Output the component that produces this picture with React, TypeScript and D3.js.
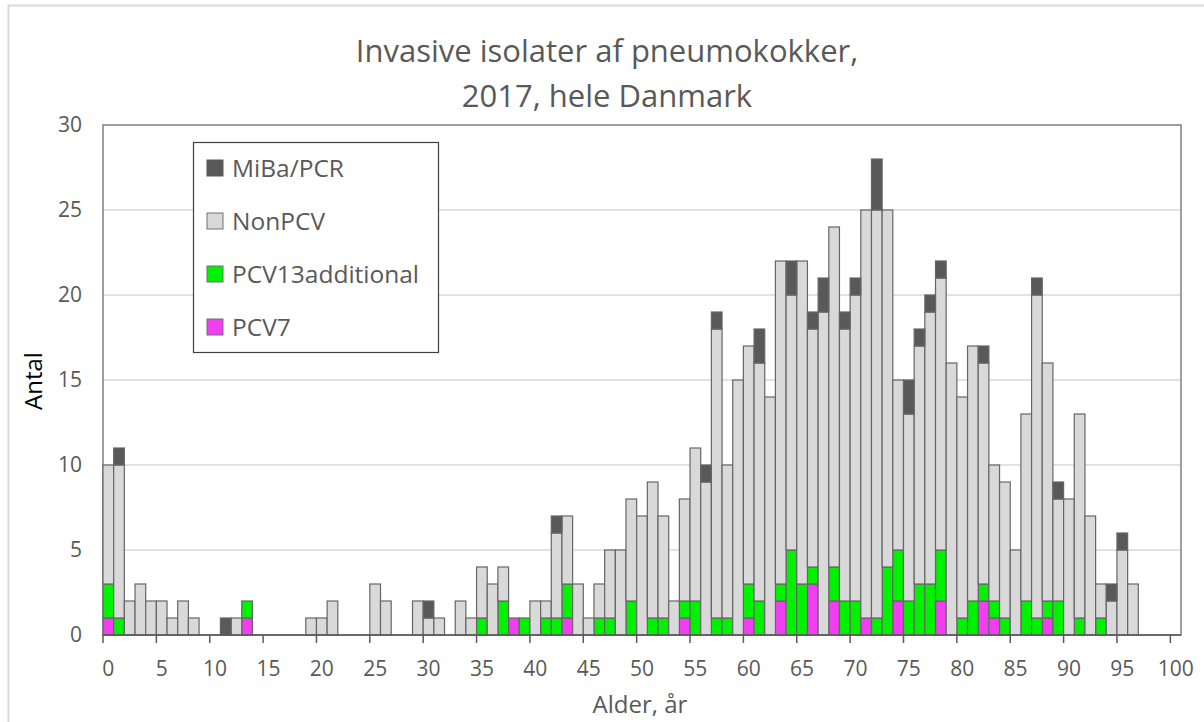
import React from "react";
import { scaleBand, scaleLinear, stack, range } from "d3";

// ages 0..100
const ages = range(0, 101);

// counts per age (missing ages = 0)
const pcv7: Record<number, number> = {
  0: 1, 13: 1, 38: 1, 43: 1, 54: 1, 60: 1, 63: 2, 66: 3, 68: 2, 71: 1,
  74: 2, 78: 2, 82: 2, 83: 1, 88: 1,
};
const pcv13additional: Record<number, number> = {
  0: 2, 1: 1, 13: 1, 35: 1, 37: 2, 39: 1, 41: 1, 42: 1, 43: 2, 46: 1,
  47: 1, 49: 2, 51: 1, 52: 1, 54: 1, 55: 2, 57: 1, 58: 1, 60: 2, 61: 2,
  63: 1, 64: 5, 65: 3, 66: 1, 68: 2, 69: 2, 70: 2, 72: 1, 73: 4, 74: 3,
  75: 2, 76: 3, 77: 3, 78: 3, 80: 1, 81: 2, 82: 1, 83: 1, 84: 1, 86: 2,
  87: 1, 88: 1, 89: 2, 91: 1, 93: 1,
};
const nonPCV: Record<number, number> = {
  0: 7, 1: 9, 2: 2, 3: 3, 4: 2, 5: 2, 6: 1, 7: 2, 8: 1, 12: 1, 19: 1,
  20: 1, 21: 2, 25: 3, 26: 2, 29: 2, 30: 1, 31: 1, 33: 2, 34: 1, 35: 3,
  36: 3, 37: 2, 40: 2, 41: 1, 42: 5, 43: 4, 44: 3, 45: 1, 46: 2, 47: 4,
  48: 5, 49: 6, 50: 7, 51: 8, 52: 6, 53: 2, 54: 6, 55: 9, 56: 9, 57: 17,
  58: 9, 59: 15, 60: 14, 61: 14, 62: 14, 63: 19, 64: 15, 65: 19, 66: 14,
  67: 19, 68: 20, 69: 16, 70: 18, 71: 24, 72: 24, 73: 21, 74: 10, 75: 11,
  76: 14, 77: 16, 78: 16, 79: 16, 80: 13, 81: 15, 82: 13, 83: 8, 84: 8,
  85: 5, 86: 11, 87: 19, 88: 14, 89: 6, 90: 8, 91: 12, 92: 7, 93: 2,
  94: 2, 95: 5, 96: 3,
};
const mibaPCR: Record<number, number> = {
  1: 1, 11: 1, 30: 1, 42: 1, 56: 1, 57: 1, 61: 2, 64: 2, 66: 1, 67: 2,
  69: 1, 70: 1, 72: 3, 75: 2, 76: 1, 77: 1, 78: 1, 82: 1, 87: 1, 89: 1,
  94: 1, 95: 1,
};

const yTicks = [0, 5, 10, 15, 20, 25, 30];
const xTicks = range(0, 101, 5);

const seriesKeys = ["PCV7", "PCV13additional", "NonPCV", "MiBa/PCR"];
const colors: Record<string, string> = {
  PCV7: "#f03ef0",
  PCV13additional: "#00f200",
  NonPCV: "#d9d9d9",
  "MiBa/PCR": "#595959",
};
const legendOrder = ["MiBa/PCR", "NonPCV", "PCV13additional", "PCV7"];

const width = 1204;
const height = 722;
const font = "'Open Sans', 'DejaVu Sans', sans-serif";
const textColor = "#595959";

export default function App() {
  const rows = ages.map((a) => ({
    age: a,
    PCV7: pcv7[a] || 0,
    PCV13additional: pcv13additional[a] || 0,
    NonPCV: nonPCV[a] || 0,
    "MiBa/PCR": mibaPCR[a] || 0,
  }));

  const series = stack<any>().keys(seriesKeys)(rows);

  const margin = { top: 125, right: 23, bottom: 87, left: 103 };
  const innerWidth = width - margin.left - margin.right;
  const innerHeight = height - margin.top - margin.bottom;

  const xScale = scaleBand<number>()
    .domain(ages)
    .range([0, innerWidth])
    .padding(0);
  const yScale = scaleLinear().domain([0, 30]).range([innerHeight, 0]);

  return (
    <div style={{ position: "fixed", left: 0, top: 0 }}>
      <svg width={width} height={height} style={{ display: "block" }}>
        <rect x={0} y={0} width={width} height={height} fill="#fff" />
        <rect
          x={8.5}
          y={5.5}
          width={width}
          height={height}
          fill="none"
          stroke="#d9d9d9"
          strokeWidth={2}
        />
        <text
          x={607}
          y={62}
          textAnchor="middle"
          fontFamily={font}
          fontSize={31}
          fill={textColor}
        >
          Invasive isolater af pneumokokker,
        </text>
        <text
          x={607}
          y={107}
          textAnchor="middle"
          fontFamily={font}
          fontSize={31}
          fill={textColor}
        >
          2017, hele Danmark
        </text>
        <g transform={`translate(${margin.left},${margin.top})`}>
          {yTicks.slice(1, -1).map((t) => (
            <line
              key={t}
              x1={0}
              x2={innerWidth}
              y1={yScale(t)}
              y2={yScale(t)}
              stroke="#d9d9d9"
              strokeWidth={1.5}
            />
          ))}
          <rect
            x={0}
            y={0}
            width={innerWidth}
            height={innerHeight}
            fill="none"
            stroke="#7f7f7f"
            strokeWidth={1.5}
          />
          {yTicks.map((t) => (
            <text
              key={t}
              x={-21}
              y={yScale(t)}
              dy=".35em"
              textAnchor="end"
              fontFamily={font}
              fontSize={21}
              fill={textColor}
            >
              {t}
            </text>
          ))}
          {series.map((s) => (
            <g key={s.key} fill={colors[s.key]}>
              {s
                .filter((d) => d[1] - d[0] > 0)
                .map((d) => (
                  <rect
                    key={d.data.age}
                    x={xScale(d.data.age)}
                    y={yScale(d[1])}
                    width={xScale.bandwidth()}
                    height={yScale(d[0]) - yScale(d[1])}
                    stroke="#666666"
                    strokeWidth={1.2}
                  />
                ))}
            </g>
          ))}
          <line
            x1={0}
            x2={innerWidth}
            y1={innerHeight}
            y2={innerHeight}
            stroke="#595959"
            strokeWidth={1.5}
          />
          {xTicks.map((t) => (
            <g key={t}>
              <line
                x1={xScale(t)}
                x2={xScale(t)}
                y1={innerHeight}
                y2={innerHeight + 8}
                stroke="#595959"
                strokeWidth={1.5}
              />
              <text
                x={(xScale(t) as number) + xScale.bandwidth() / 2}
                y={innerHeight + 41}
                textAnchor="middle"
                fontFamily={font}
                fontSize={21}
                fill={textColor}
              >
                {t}
              </text>
            </g>
          ))}
        </g>
        <text
          x={640}
          y={713}
          textAnchor="middle"
          fontFamily={font}
          fontSize={24}
          fill={textColor}
        >
          Alder, år
        </text>
        <text
          transform="translate(42,381) rotate(-90)"
          textAnchor="middle"
          fontFamily={font}
          fontSize={24}
          fill="#000"
        >
          Antal
        </text>
        <g>
          <rect
            x={193.5}
            y={142.5}
            width={245}
            height={210}
            fill="#fff"
            stroke="#404040"
            strokeWidth={1.2}
          />
          {legendOrder.map((k, i) => (
            <g key={k} transform={`translate(207,${168 + i * 53})`}>
              <rect
                x={0}
                y={-8}
                width={16}
                height={16}
                fill={colors[k]}
                stroke={k === "MiBa/PCR" ? colors[k] : "#707070"}
                strokeWidth={1}
              />
              <text
                x={25}
                y={0}
                dy=".36em"
                fontFamily={font}
                fontSize={24.5}
                fill={textColor}
              >
                {k}
              </text>
            </g>
          ))}
        </g>
      </svg>
    </div>
  );
}
